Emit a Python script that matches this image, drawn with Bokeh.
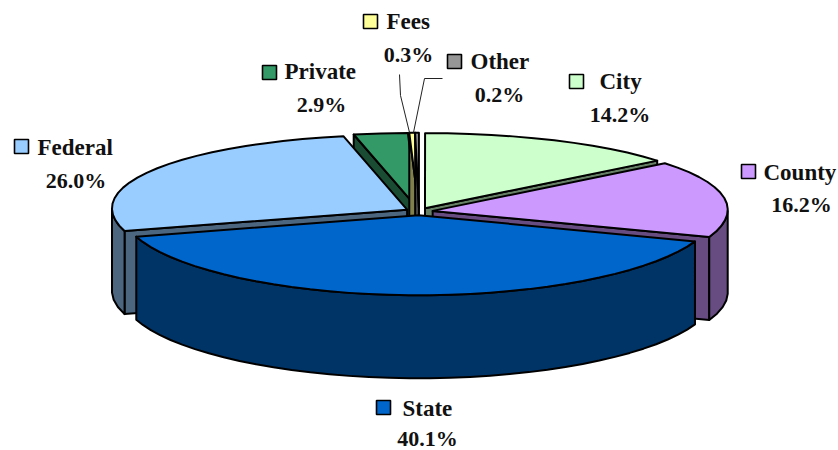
import numpy as np
from bokeh.plotting import figure
from bokeh.embed import file_html
from bokeh.resources import INLINE
from bokeh.core.properties import value

# ---- data: clockwise from twelve o'clock
categories = ["City", "County", "State", "Federal", "Private", "Fees", "Other"]
shares = [14.2, 16.2, 40.1, 26.0, 2.9, 0.3, 0.2]
top_colors = ["#CCFFCC", "#CC99FF", "#0066CC", "#99CCFF", "#339966", "#FFFF99", "#969696"]
side_colors = ["#668066", "#664C80", "#003366", "#4C6680", "#194C33", "#80804C", "#4B4B4B"]

# ---- layout (page pixels)
CX, CY, RX, RY, PERSP_X, PERSP_Y, EXPLODE, DEPTH = 418.5, 211.0, 295.0, 77.5, 0.015, 0.03, 0.047, 83.0
W, H = 838, 450
TEXT_SHIFT = -8
paint_order = ["Private", "Fees", "Other", "City", "Federal", "County", "State"]
swatches = {"Fees": (363, 14), "Other": (447, 54), "City": (569, 74), "County": (741, 164),
            "Federal": (14, 139), "State": (376, 400), "Private": (262, 65)}
name_pos = {"Fees": (386, 29), "Other": (470, 69), "City": (599, 89), "County": (763, 180),
            "Federal": (37, 155), "State": (402, 416), "Private": (284, 79)}
pct_pos = {"Fees": (408, 62), "Other": (499, 102), "City": (619.5, 122), "County": (801, 212),
           "Federal": (75.5, 188), "State": (427, 446), "Private": (321, 112)}
leaders = {"Fees": ([399, 400, 409], [74, 95, 132]), "Other": ([442, 424, 413], [78, 78, 132])}

p = figure(width=W, height=H, x_range=(0, W), y_range=(H, 0),
           output_backend="svg", toolbar_location=None, min_border=0,
           outline_line_color=None, background_fill_color="white", border_fill_color="white")
p.axis.visible = False
p.grid.visible = False


def proj(X, Y, ox=0.0, oy=0.0):
    """Unit-plane point to page pixels, with slight perspective."""
    X, Y = np.asarray(X) + ox, np.asarray(Y) + oy
    return CX + RX * X / (1.0 - PERSP_X * Y), CY - RY * Y / (1.0 + PERSP_Y * Y)


fractions = np.array(shares) / sum(shares)
ends = np.cumsum(fractions) * 2 * np.pi
starts = ends - fractions * 2 * np.pi

xs, ys, fills = [], [], []


def add(px, py, color):
    xs.append(list(np.asarray(px, float)))
    ys.append(list(np.asarray(py, float)))
    fills.append(color)


for name in paint_order:
    i = categories.index(name)
    a0, a1 = starts[i], ends[i]
    mid = (a0 + a1) / 2
    ox, oy = EXPLODE * np.sin(mid), EXPLODE * np.cos(mid)
    ax, ay = proj(0.0, 0.0, ox, oy)

    def face(a):
        ex, ey = proj(np.sin(a), np.cos(a), ox, oy)
        add([ax, ex, ex, ax], [ay, ey, ey + DEPTH, ay + DEPTH], side_colors[i])

    if np.sin(a0) < -1e-6:
        face(a0)
    if np.sin(a1) > 1e-6:
        face(a1)
    # outer wall: only the part that looks at the viewer
    lo, hi = max(a0, np.pi / 2), min(a1, 3 * np.pi / 2)
    if hi > lo:
        t = np.linspace(lo, hi, max(3, int((hi - lo) / np.radians(4)) + 1))
        wx, wy = proj(np.sin(t), np.cos(t), ox, oy)
        add(np.r_[wx, wx[::-1]], np.r_[wy, wy[::-1] + DEPTH], side_colors[i])
    # top face
    t = np.linspace(a0, a1, max(3, int((a1 - a0) / np.radians(4)) + 1))
    tx, ty = proj(np.sin(t), np.cos(t), ox, oy)
    add(np.r_[ax, tx], np.r_[ay, ty], top_colors[i])

p.patches(xs, ys, fill_color=fills, line_color="black", line_width=2, line_join="round")

for lx, ly in leaders.values():
    p.line(lx, ly, line_color="#222222", line_width=1)

p.quad(left=[swatches[c][0] for c in categories],
       right=[swatches[c][0] + 14 for c in categories],
       top=[swatches[c][1] for c in categories],
       bottom=[swatches[c][1] + 14 for c in categories],
       fill_color=top_colors, line_color="black", line_width=1.6)

FONT = value("Liberation Serif")
p.text([name_pos[c][0] for c in categories], [name_pos[c][1] + TEXT_SHIFT for c in categories], text=categories,
       text_font=FONT, text_font_style="bold", text_font_size="23px",
       text_align="left", text_baseline="alphabetic", text_color="#111111")
p.text([pct_pos[c][0] for c in categories], [pct_pos[c][1] + TEXT_SHIFT for c in categories],
       text=[f"{v:.1f}%" for v in shares],
       text_font=FONT, text_font_style="bold", text_font_size="22px",
       text_align="center", text_baseline="alphabetic", text_color="#111111")

open("out.html", "w").write(file_html(p, INLINE))
